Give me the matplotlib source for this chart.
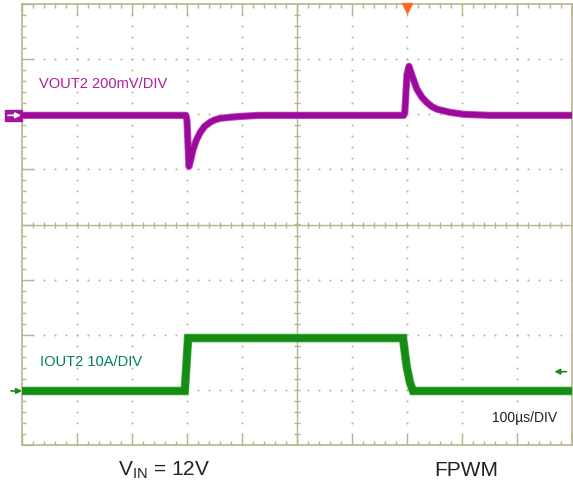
import matplotlib.pyplot as plt
from matplotlib.ticker import MultipleLocator
from matplotlib.patches import Rectangle
import numpy as np

plt.rcParams['font.family'] = ['Liberation Sans', 'DejaVu Sans']
plt.rcParams['mathtext.fontset'] = 'custom'
plt.rcParams['mathtext.rm'] = 'Liberation Sans'

# escalas del osciloscopio
T_DIV = 100      # us/div
V_DIV = 200      # mV/div
I_DIV = 10       # A/div
VOUT_OFFSET = 1.98   # div
IOUT_OFFSET = -3.02  # div
TRIG_TIME = 700      # us
TRIG_LEVEL = 3.5     # A

# VOUT2 (desviacion en mV)
t_vout = [0, 298, 300, 303.6, 307, 311, 317, 324, 332, 342, 350, 360, 378, 396, 430,
          694, 696, 700, 703.6, 709, 718, 727, 736, 745, 755, 778, 802, 850, 1000]
vout = [0, 0, -20, -185, -160, -124, -90, -62, -40, -25, -17, -11, -7, -4, 0,
        0, 10, 149, 178, 145, 95, 66, 47, 32, 22, 11, 4, 0, 0]

# IOUT2 (A)
t_iout = [0, 296, 302, 692.7, 699.5, 705.5, 711, 1000]
iout = [0, 0, 9.6, 9.6, 4.4, 1.5, 0, 0]

frame = '#B8B48E'
purple = '#9B0A9B'
green = '#168C16'

fig = plt.figure(figsize=(5.73, 4.85), dpi=100)
ax = fig.add_axes([22 / 573, 39 / 485, 550 / 573, 441 / 485])
ax.set_xlim(0, 10 * T_DIV)
ax.set_ylim(-4, 4)

for s in ax.spines.values():
    s.set_color(frame)
    s.set_linewidth(1.2)
ax.xaxis.set_major_locator(MultipleLocator(T_DIV))
ax.xaxis.set_minor_locator(MultipleLocator(T_DIV / 5))
ax.yaxis.set_major_locator(MultipleLocator(1))
ax.yaxis.set_minor_locator(MultipleLocator(0.2))
ax.tick_params(which='both', direction='in', top=True, right=True,
               labelbottom=False, labelleft=False, color=frame, width=1)
ax.tick_params(which='major', length=8)
ax.tick_params(which='minor', length=3)

# rejilla punteada
xs = np.arange(0, 10 * T_DIV + 1, T_DIV / 5)
ys = np.arange(-4, 4.01, 0.2)
for yl in range(-3, 4):
    if yl != 0:
        ax.scatter(xs, np.full(len(xs), yl), s=2, color=frame, lw=0, zorder=1)
for xl in range(1, 10):
    if xl != 5:
        ax.scatter(np.full(len(ys), xl * T_DIV), ys, s=2, color=frame, lw=0, zorder=1)

# cruz central
ax.axhline(0, color=frame, lw=1, zorder=1)
ax.axvline(5 * T_DIV, color=frame, lw=1, zorder=1)
ax.plot(xs[1:-1], np.zeros(len(xs) - 2), ls='none', marker='|', ms=5,
        mew=1, color=frame, zorder=1)
ax.plot(np.full(len(ys) - 2, 5 * T_DIV), ys[1:-1], ls='none', marker='_', ms=5,
        mew=1, color=frame, zorder=1)

# trazas
axv = ax.twinx()
axv.set_ylim((-4 - VOUT_OFFSET) * V_DIV, (4 - VOUT_OFFSET) * V_DIV)
axi = ax.twinx()
axi.set_ylim((-4 - IOUT_OFFSET) * I_DIV, (4 - IOUT_OFFSET) * I_DIV)
for a in (axv, axi):
    a.axis('off')

axv.plot(t_vout, vout, color='#C04CC0', lw=5.2, solid_joinstyle='round', zorder=3)
axv.plot(t_vout, vout, color=purple, lw=4.0, solid_joinstyle='round', zorder=3)
axi.plot(t_iout, iout, color='#4CC04C', lw=6.2, solid_joinstyle='miter', zorder=3)
axi.plot(t_iout, iout, color=green, lw=5.2, solid_joinstyle='miter', zorder=3)

# marcadores de referencia
yt = ax.get_yaxis_transform()
flecha = dict(arrowstyle='-|>', lw=1.2, mutation_scale=8, shrinkA=0, shrinkB=0)
ax.add_patch(Rectangle((-17 / 550, VOUT_OFFSET - 0.1), 17 / 550, 0.2,
                       transform=yt, color='#A016A0', clip_on=False, zorder=5))
ax.annotate('', xy=(-1 / 550, VOUT_OFFSET), xytext=(-14 / 550, VOUT_OFFSET),
            xycoords=yt, textcoords=yt, zorder=6,
            arrowprops=dict(flecha, color='white'))
ax.annotate('', xy=(0, IOUT_OFFSET), xytext=(-11 / 550, IOUT_OFFSET),
            xycoords=yt, textcoords=yt,
            arrowprops=dict(flecha, color=green))
y_trig = IOUT_OFFSET + TRIG_LEVEL / I_DIV
ax.annotate('', xy=(0.968, y_trig), xytext=(0.99, y_trig),
            xycoords=yt, textcoords=yt,
            arrowprops=dict(flecha, color=green))
ax.plot([TRIG_TIME], [3.93], marker='v', ms=7, color='#FF6A1F',
        clip_on=False, zorder=6)

# textos
fig.text(39 / 573, 1 - 84 / 485, 'VOUT2 200mV/DIV', color='#B01C9C',
         fontsize=10.5, va='center', ha='left')
fig.text(40 / 573, 1 - 362 / 485, 'IOUT2 10A/DIV', color='#007F5F',
         fontsize=10.5, va='center', ha='left')
fig.text(557 / 573, 1 - 418 / 485, '100µs/DIV', color='#222222',
         fontsize=10, va='center', ha='right')
fig.text(164 / 573, 1 - 476 / 485, r'$\mathregular{V_{IN}}$ = 12V',
         color='#222222', fontsize=15, va='baseline', ha='center')
fig.text(466 / 573, 1 - 476 / 485, 'FPWM', color='#222222',
         fontsize=15, va='baseline', ha='center')

fig.savefig('out.png', dpi=100)
